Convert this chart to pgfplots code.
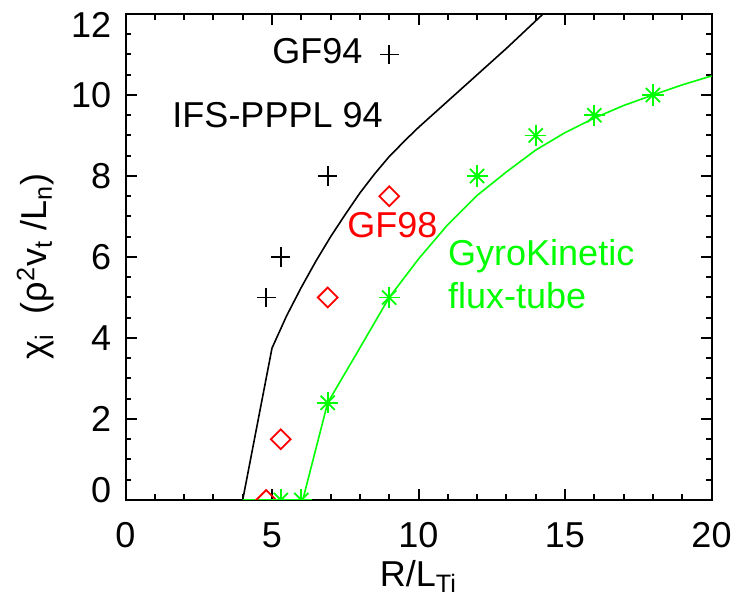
\documentclass[border=0pt]{standalone}
\usepackage{fontspec}
\setmainfont{Liberation Sans}
\usepackage{pgfplots}
\pgfplotsset{compat=1.18}
\definecolor{idlgreen}{RGB}{0,255,0}
\begin{document}
\fontsize{18bp}{21bp}\selectfont
\begin{tikzpicture}
\begin{axis}[
  name=ax,
  width=293bp, height=243bp, scale only axis,
  xmin=0, xmax=20, ymin=0, ymax=12,
  xtick={0,5,...,20}, ytick={0,2,...,12},
  yticklabels={\smash{\rlap{\raisebox{5bp}{0}}}\phantom{0},2,4,6,8,10,\smash{\rlap{\raisebox{-5.5bp}{12}}}\phantom{12}},
  minor x tick num=4, minor y tick num=3,
  tick align=inside,
  major tick length=5.5bp, minor tick length=2.8bp,
  every tick/.append style={line width=1bp, black},
  axis line style={line width=1bp},
  tick label style={font=\fontsize{18bp}{21bp}\selectfont},
  /pgf/number format/assume math mode=true,
  xticklabel style={yshift=-5bp},
  yticklabel style={xshift=-1bp},
  xlabel={R/L\textsubscript{Ti}},
  xlabel style={at={(rel axis cs:0.5,0)}, anchor=base, yshift=-43bp},
  ylabel={χ\textsubscript{i}\ \ (ρ\textsuperscript{2}v\textsubscript{t} /L\textsubscript{n})},
  ylabel style={at={(rel axis cs:0,0.48)}, anchor=center, yshift=45bp},
  label style={font=\fontsize{18bp}{21bp}\selectfont},
  clip marker paths=true,
]
% IFS-PPPL 94 curve
\addplot[black, line width=0.8bp] coordinates {
  (4,0) (5,3.75) (5.5,4.55) (6,5.25) (6.5,5.9) (7,6.5) (7.5,7.05)
  (8,7.58) (8.5,8.05) (9,8.48) (9.6,8.92) (10,9.2) (11,9.85)
  (12,10.5) (13,11.15) (14.25,12)
};
% gyrokinetic fit
\addplot[idlgreen, line width=0.8bp] coordinates {
  (4,0) (6.05,0) (6.9,2.4) (7.89,3.62) (9,5) (10,5.95) (11,6.8)
  (12,7.52) (13,8.1) (14,8.64) (15,9.07) (16,9.43) (17,9.74)
  (18,10.0) (19,10.25) (20,10.47)
};
% GF94
\addplot[only marks, black, mark=+, mark size=4.8bp, line width=0.9bp] coordinates {
  (4.8,5) (5.3,6) (6.9,8) (9,11)
};
% GF98
\addplot[only marks, red, mark=square, mark size=3.5bp, mark options={rotate=45}, line width=0.9bp] coordinates {
  (4.8,0) (5.3,1.5) (6.9,5) (9,7.5)
};
% gyrokinetic flux-tube points
\addplot[only marks, idlgreen, mark=+, mark size=5.3bp, line width=0.9bp] coordinates {
  (5.3,0) (6,0) (6.9,2.4) (9,5) (12,8) (14,9) (16,9.5) (18,10)
};
\addplot[only marks, idlgreen, mark=x, mark size=5bp, line width=0.9bp] coordinates {
  (5.3,0) (6,0) (6.9,2.4) (9,5) (12,8) (14,9) (16,9.5) (18,10)
};
\node[anchor=base east, inner sep=0pt] at (axis cs:8.1,10.79) {GF94};
\node[anchor=base west, inner sep=0pt] at (axis cs:1.59,9.19) {IFS-PPPL 94};
\node[anchor=base west, inner sep=0pt, text=red] at (axis cs:7.56,6.49) {GF98};
\node[anchor=base west, inner sep=0pt, text=idlgreen] at (axis cs:11.0,5.78) {GyroKinetic};
\node[anchor=base west, inner sep=0pt, text=idlgreen] at (axis cs:11.0,4.74) {flux-tube};
\end{axis}
\pgfresetboundingbox
\path[use as bounding box] ([shift={(-62.75bp,-47.5bp)}]ax.south west) rectangle ([shift={(10.25bp,7bp)}]ax.north east);
\end{tikzpicture}
\end{document}
